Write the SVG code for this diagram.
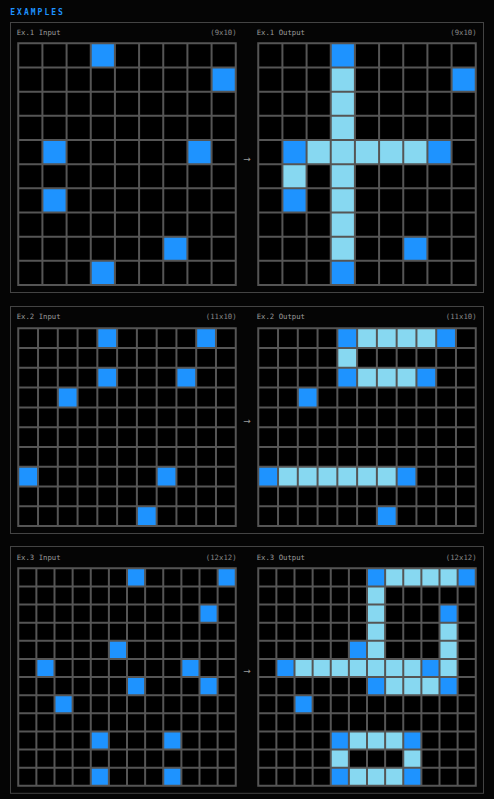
<svg xmlns="http://www.w3.org/2000/svg" width="494" height="799" viewBox="0 0 494 799">
<style>
.bg{fill:#050505}
.panel{fill:#050505;stroke:#444;stroke-width:1}
.title{font-family:"DejaVu Sans Mono","Liberation Mono",monospace;font-weight:bold;font-size:8px;letter-spacing:2px;fill:#1E93FF}
.lbl{font-family:"DejaVu Sans Mono","Liberation Mono",monospace;font-size:7.3px;fill:#9a9a9a}
.dim{font-family:"DejaVu Sans Mono","Liberation Mono",monospace;font-size:7.3px;fill:#888;text-anchor:end}
.arr{font-family:"DejaVu Sans","Liberation Sans",sans-serif;font-size:9px;fill:#999;text-anchor:middle}
.cellbg{fill:#000}
.gl{fill:none;stroke:#555;stroke-width:2;stroke-linecap:square;vector-effect:non-scaling-stroke}
.b{fill:#1E93FF}
.l{fill:#87D8F1}
</style>
<rect class="bg" x="0" y="0" width="494" height="799"/>
<text class="title" x="10.3" y="15.3">EXAMPLES</text>

<g id="example1">
<rect class="panel" x="10.5" y="22.5" width="473" height="270"/>
<text class="lbl" x="16.7" y="35.3">Ex.1 Input</text>
<text class="dim" x="236.6" y="35.3">(9x10)</text>
<text class="lbl" x="256.7" y="35.3">Ex.1 Output</text>
<text class="dim" x="476.6" y="35.3">(9x10)</text>
<g id="ex1-input" transform="translate(18.25,43.3) scale(24.1667)">
<rect class="cellbg" x="0" y="0" width="9" height="10"/>
<rect class="b" x="3" y="0" width="1" height="1"/>
<rect class="b" x="8" y="1" width="1" height="1"/>
<rect class="b" x="1" y="4" width="1" height="1"/>
<rect class="b" x="7" y="4" width="1" height="1"/>
<rect class="b" x="1" y="6" width="1" height="1"/>
<rect class="b" x="6" y="8" width="1" height="1"/>
<rect class="b" x="3" y="9" width="1" height="1"/>
<path class="gl" d="M0 0V10M1 0V10M2 0V10M3 0V10M4 0V10M5 0V10M6 0V10M7 0V10M8 0V10M9 0V10M0 0H9M0 1H9M0 2H9M0 3H9M0 4H9M0 5H9M0 6H9M0 7H9M0 8H9M0 9H9M0 10H9"/>
</g>
<g id="ex1-output" transform="translate(258.25,43.3) scale(24.1667)">
<rect class="cellbg" x="0" y="0" width="9" height="10"/>
<rect class="l" x="3" y="1" width="1" height="3"/>
<rect class="l" x="2" y="4" width="5" height="1"/>
<rect class="l" x="1" y="5" width="1" height="1"/>
<rect class="l" x="3" y="5" width="1" height="4"/>
<rect class="b" x="3" y="0" width="1" height="1"/>
<rect class="b" x="8" y="1" width="1" height="1"/>
<rect class="b" x="1" y="4" width="1" height="1"/>
<rect class="b" x="7" y="4" width="1" height="1"/>
<rect class="b" x="1" y="6" width="1" height="1"/>
<rect class="b" x="6" y="8" width="1" height="1"/>
<rect class="b" x="3" y="9" width="1" height="1"/>
<path class="gl" d="M0 0V10M1 0V10M2 0V10M3 0V10M4 0V10M5 0V10M6 0V10M7 0V10M8 0V10M9 0V10M0 0H9M0 1H9M0 2H9M0 3H9M0 4H9M0 5H9M0 6H9M0 7H9M0 8H9M0 9H9M0 10H9"/>
</g>
</g>

<g id="example2">
<rect class="panel" x="10.5" y="306.5" width="473" height="227"/>
<text class="lbl" x="16.7" y="319.3">Ex.2 Input</text>
<text class="dim" x="236.6" y="319.3">(11x10)</text>
<text class="lbl" x="256.7" y="319.3">Ex.2 Output</text>
<text class="dim" x="476.6" y="319.3">(11x10)</text>
<g id="ex2-input" transform="translate(18.25,328.3) scale(19.7727)">
<rect class="cellbg" x="0" y="0" width="11" height="10"/>
<rect class="b" x="4" y="0" width="1" height="1"/>
<rect class="b" x="9" y="0" width="1" height="1"/>
<rect class="b" x="4" y="2" width="1" height="1"/>
<rect class="b" x="8" y="2" width="1" height="1"/>
<rect class="b" x="2" y="3" width="1" height="1"/>
<rect class="b" x="0" y="7" width="1" height="1"/>
<rect class="b" x="7" y="7" width="1" height="1"/>
<rect class="b" x="6" y="9" width="1" height="1"/>
<path class="gl" d="M0 0V10M1 0V10M2 0V10M3 0V10M4 0V10M5 0V10M6 0V10M7 0V10M8 0V10M9 0V10M10 0V10M11 0V10M0 0H11M0 1H11M0 2H11M0 3H11M0 4H11M0 5H11M0 6H11M0 7H11M0 8H11M0 9H11M0 10H11"/>
</g>
<g id="ex2-output" transform="translate(258.25,328.3) scale(19.7727)">
<rect class="cellbg" x="0" y="0" width="11" height="10"/>
<rect class="l" x="5" y="0" width="4" height="1"/>
<rect class="l" x="4" y="1" width="1" height="1"/>
<rect class="l" x="5" y="2" width="3" height="1"/>
<rect class="l" x="1" y="7" width="6" height="1"/>
<rect class="b" x="4" y="0" width="1" height="1"/>
<rect class="b" x="9" y="0" width="1" height="1"/>
<rect class="b" x="4" y="2" width="1" height="1"/>
<rect class="b" x="8" y="2" width="1" height="1"/>
<rect class="b" x="2" y="3" width="1" height="1"/>
<rect class="b" x="0" y="7" width="1" height="1"/>
<rect class="b" x="7" y="7" width="1" height="1"/>
<rect class="b" x="6" y="9" width="1" height="1"/>
<path class="gl" d="M0 0V10M1 0V10M2 0V10M3 0V10M4 0V10M5 0V10M6 0V10M7 0V10M8 0V10M9 0V10M10 0V10M11 0V10M0 0H11M0 1H11M0 2H11M0 3H11M0 4H11M0 5H11M0 6H11M0 7H11M0 8H11M0 9H11M0 10H11"/>
</g>
</g>

<g id="example3">
<rect class="panel" x="10.5" y="546.5" width="473" height="246.8"/>
<text class="lbl" x="16.7" y="559.5">Ex.3 Input</text>
<text class="dim" x="236.6" y="559.5">(12x12)</text>
<text class="lbl" x="256.7" y="559.5">Ex.3 Output</text>
<text class="dim" x="476.6" y="559.5">(12x12)</text>
<g id="ex3-input" transform="translate(18.25,568.3) scale(18.125)">
<rect class="cellbg" x="0" y="0" width="12" height="12"/>
<rect class="b" x="6" y="0" width="1" height="1"/>
<rect class="b" x="11" y="0" width="1" height="1"/>
<rect class="b" x="10" y="2" width="1" height="1"/>
<rect class="b" x="5" y="4" width="1" height="1"/>
<rect class="b" x="1" y="5" width="1" height="1"/>
<rect class="b" x="9" y="5" width="1" height="1"/>
<rect class="b" x="6" y="6" width="1" height="1"/>
<rect class="b" x="10" y="6" width="1" height="1"/>
<rect class="b" x="2" y="7" width="1" height="1"/>
<rect class="b" x="4" y="9" width="1" height="1"/>
<rect class="b" x="8" y="9" width="1" height="1"/>
<rect class="b" x="4" y="11" width="1" height="1"/>
<rect class="b" x="8" y="11" width="1" height="1"/>
<path class="gl" d="M0 0V12M1 0V12M2 0V12M3 0V12M4 0V12M5 0V12M6 0V12M7 0V12M8 0V12M9 0V12M10 0V12M11 0V12M12 0V12M0 0H12M0 1H12M0 2H12M0 3H12M0 4H12M0 5H12M0 6H12M0 7H12M0 8H12M0 9H12M0 10H12M0 11H12M0 12H12"/>
</g>
<g id="ex3-output" transform="translate(258.25,568.3) scale(18.125)">
<rect class="cellbg" x="0" y="0" width="12" height="12"/>
<rect class="l" x="7" y="0" width="4" height="1"/>
<rect class="l" x="6" y="1" width="1" height="4"/>
<rect class="l" x="10" y="3" width="1" height="3"/>
<rect class="l" x="2" y="5" width="7" height="1"/>
<rect class="l" x="7" y="6" width="3" height="1"/>
<rect class="l" x="5" y="9" width="3" height="1"/>
<rect class="l" x="4" y="10" width="1" height="1"/>
<rect class="l" x="8" y="10" width="1" height="1"/>
<rect class="l" x="5" y="11" width="3" height="1"/>
<rect class="b" x="6" y="0" width="1" height="1"/>
<rect class="b" x="11" y="0" width="1" height="1"/>
<rect class="b" x="10" y="2" width="1" height="1"/>
<rect class="b" x="5" y="4" width="1" height="1"/>
<rect class="b" x="1" y="5" width="1" height="1"/>
<rect class="b" x="9" y="5" width="1" height="1"/>
<rect class="b" x="6" y="6" width="1" height="1"/>
<rect class="b" x="10" y="6" width="1" height="1"/>
<rect class="b" x="2" y="7" width="1" height="1"/>
<rect class="b" x="4" y="9" width="1" height="1"/>
<rect class="b" x="8" y="9" width="1" height="1"/>
<rect class="b" x="4" y="11" width="1" height="1"/>
<rect class="b" x="8" y="11" width="1" height="1"/>
<path class="gl" d="M0 0V12M1 0V12M2 0V12M3 0V12M4 0V12M5 0V12M6 0V12M7 0V12M8 0V12M9 0V12M10 0V12M11 0V12M12 0V12M0 0H12M0 1H12M0 2H12M0 3H12M0 4H12M0 5H12M0 6H12M0 7H12M0 8H12M0 9H12M0 10H12M0 11H12M0 12H12"/>
</g>
</g>

<g id="connectors">
<text class="arr" x="247" y="162.2">→</text>
<text class="arr" x="247" y="423.9">→</text>
<text class="arr" x="247" y="674.2">→</text>
</g>
</svg>
